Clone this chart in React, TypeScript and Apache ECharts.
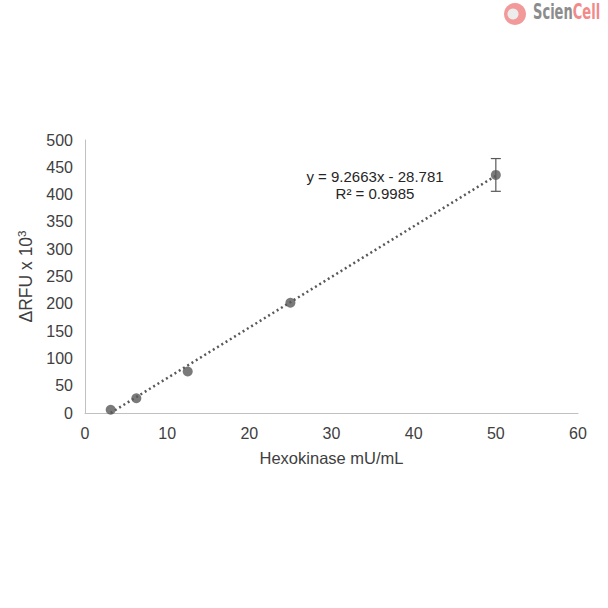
import React, { useEffect, useRef } from "react";
import * as echarts from "echarts";

const concentrations = [3.125, 6.25, 12.5, 25, 50];
const rfuValues = [6, 27, 76, 202, 436];
const errorValues = [0, 0, 0, 0, 30];
const trendX = [3.125, 50];
const trendY = [0.2, 434.5];
const equationLines = ["y = 9.2663x - 28.781", "R² = 0.9985"];

export default function App() {
  const ref = useRef<HTMLDivElement>(null);
  useEffect(() => {
    document.body.style.margin = "0";
    const chart = echarts.init(ref.current!, null, { renderer: "svg" });
    const font = "Liberation Sans, Arial, sans-serif";
    const points = concentrations.map((x, i) => [x, rfuValues[i]]);
    const errs = concentrations.map((x, i) => [x, rfuValues[i] - errorValues[i], rfuValues[i] + errorValues[i]]);
    chart.setOption({
      animation: false,
      backgroundColor: "#ffffff",
      grid: { left: 85, right: 30, top: 140, bottom: 195 },
      xAxis: {
        type: "value",
        min: 0,
        max: 60,
        interval: 10,
        name: "Hexokinase mU/mL",
        nameLocation: "middle",
        nameGap: 36,
        nameTextStyle: { fontFamily: font, fontSize: 16.5, color: "#404040" },
        axisLine: { show: true, lineStyle: { color: "#c0c0c0", width: 1 } },
        axisTick: { show: false },
        splitLine: { show: false },
        axisLabel: { fontFamily: font, fontSize: 16, color: "#404040", margin: 12 },
      },
      yAxis: {
        type: "value",
        min: 0,
        max: 500,
        interval: 50,
        name: "{a|ΔRFU x 10}{s|3}",
        nameLocation: "middle",
        nameGap: 46,
        nameRotate: 90,
        nameTextStyle: {
          fontFamily: font,
          fontSize: 17.5,
          color: "#404040",
          rich: {
            a: { fontFamily: font, fontSize: 17.5, color: "#404040" },
            s: { fontFamily: font, fontSize: 11.5, color: "#404040", verticalAlign: "top", padding: [0, 0, 9, 0] },
          },
        },
        axisLine: { show: true, lineStyle: { color: "#c0c0c0", width: 1 } },
        axisTick: { show: false },
        splitLine: { show: false },
        axisLabel: { fontFamily: font, fontSize: 16, color: "#404040", margin: 12 },
      },
      series: [
        {
          type: "line",
          data: trendX.map((x, i) => [x, trendY[i]]),
          symbol: "none",
          lineStyle: { color: "#595959", width: 2.5, type: [2, 3] },
          z: 2,
        },
        {
          type: "custom",
          data: errs,
          z: 3,
          renderItem: (params: any, api: any) => {
            const x = api.value(0);
            const lo = api.coord([x, api.value(1)]);
            const hi = api.coord([x, api.value(2)]);
            if (Math.abs(hi[1] - lo[1]) < 1) return { type: "group", children: [] };
            const style = { stroke: "#595959", lineWidth: 1.2 };
            return {
              type: "group",
              children: [
                { type: "line", shape: { x1: lo[0], y1: lo[1], x2: hi[0], y2: hi[1] }, style },
                { type: "line", shape: { x1: lo[0] - 5, y1: lo[1], x2: lo[0] + 5, y2: lo[1] }, style },
                { type: "line", shape: { x1: hi[0] - 5, y1: hi[1], x2: hi[0] + 5, y2: hi[1] }, style },
              ],
            };
          },
        },
        {
          type: "scatter",
          data: points,
          symbol: "circle",
          symbolSize: 10,
          itemStyle: { color: "#595959" },
          z: 4,
        },
      ],
      graphic: [
        {
          type: "text",
          x: 375,
          y: 176,
          style: { text: equationLines[0], fontFamily: font, fontSize: 15, fill: "#262626", textAlign: "center", textVerticalAlign: "middle" },
        },
        {
          type: "text",
          x: 375,
          y: 193,
          style: { text: equationLines[1], fontFamily: font, fontSize: 15, fill: "#262626", textAlign: "center", textVerticalAlign: "middle" },
        },
        {
          type: "circle",
          shape: { cx: 515, cy: 14, r: 11 },
          style: { fill: "#f29a9a" },
        },
        {
          type: "circle",
          shape: { cx: 513, cy: 14, r: 5.5 },
          style: { fill: "#ececec" },
        },
        {
          type: "text",
          x: 533,
          y: 0,
          scaleX: 0.66,
          style: {
            text: "{a|Scien}{b|Cell}",
            textVerticalAlign: "top",
            rich: {
              a: { fontFamily: "DejaVu Sans Condensed, sans-serif", fontWeight: "bold", fontSize: 22, fill: "#8c8c8c" },
              b: { fontFamily: "DejaVu Sans Condensed, sans-serif", fontWeight: "bold", fontSize: 22, fill: "#f28a8a" },
            },
          },
        },
      ],
    });
    return () => chart.dispose();
  }, []);
  return <div ref={ref} style={{ width: 608, height: 608 }} />;
}
